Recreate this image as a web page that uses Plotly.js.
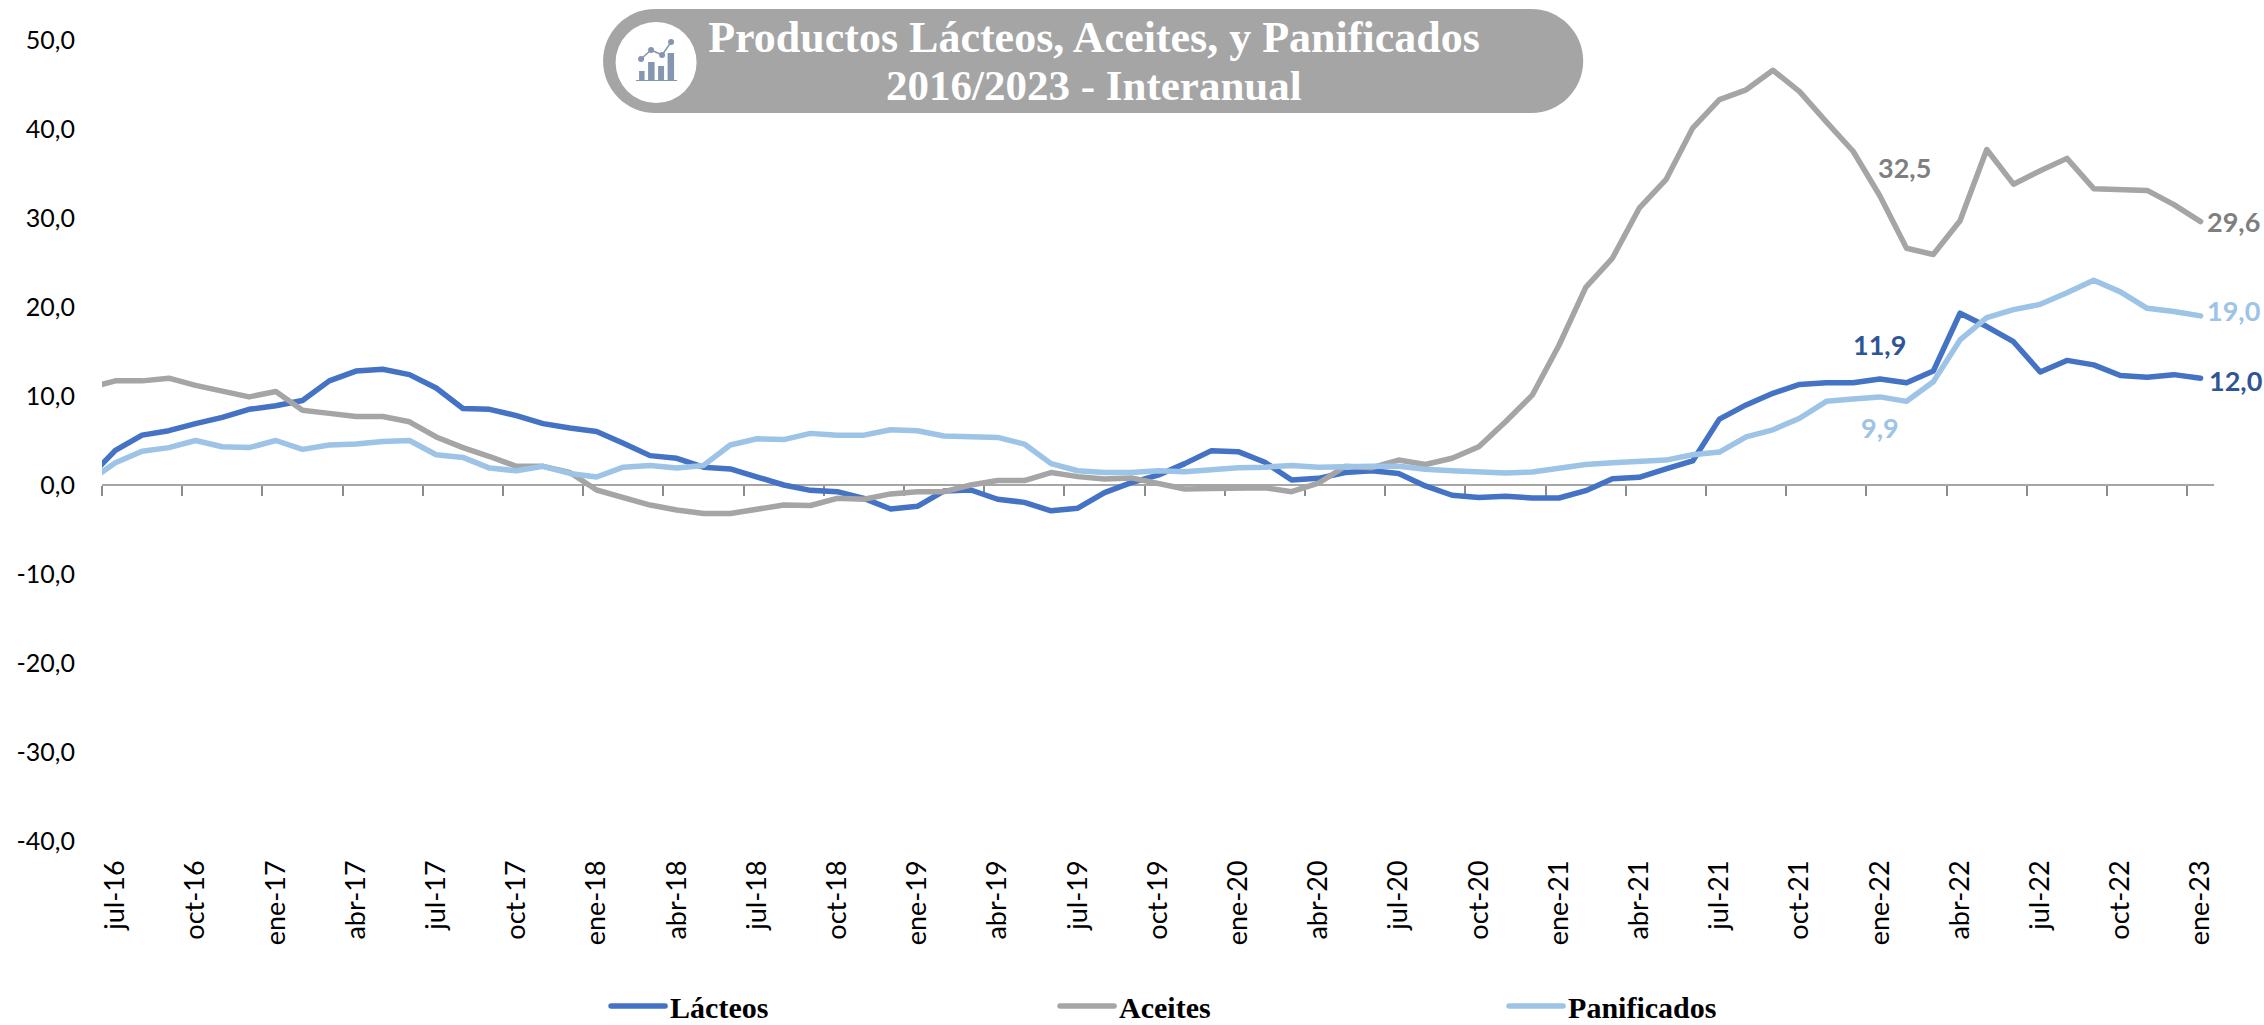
<!DOCTYPE html>
<html>
<head>
<meta charset="utf-8">
<script src="https://cdn.plot.ly/plotly-3.0.1.min.js"></script>
<style>html,body{margin:0;padding:0;background:#fff}#chart{width:2264px;height:1025px}
.scatterlayer .js-line,.legendlines path{stroke-linecap:round !important;stroke-linejoin:round !important}</style>
</head>
<body>
<div id="chart"></div>
<script>
var months = ['jun-16','jul-16','ago-16','sep-16','oct-16','nov-16','dic-16','ene-17','feb-17','mar-17','abr-17','may-17','jun-17','jul-17','ago-17','sep-17','oct-17','nov-17','dic-17','ene-18','feb-18','mar-18','abr-18','may-18','jun-18','jul-18','ago-18','sep-18','oct-18','nov-18','dic-18','ene-19','feb-19','mar-19','abr-19','may-19','jun-19','jul-19','ago-19','sep-19','oct-19','nov-19','dic-19','ene-20','feb-20','mar-20','abr-20','may-20','jun-20','jul-20','ago-20','sep-20','oct-20','nov-20','dic-20','ene-21','feb-21','mar-21','abr-21','may-21','jun-21','jul-21','ago-21','sep-21','oct-21','nov-21','dic-21','ene-22','feb-22','mar-22','abr-22','may-22','jun-22','jul-22','ago-22','sep-22','oct-22','nov-22','dic-22','ene-23'];
var lacteos = [0.8,3.9,5.6,6.1,6.9,7.6,8.5,8.9,9.5,11.7,12.8,13.0,12.4,10.9,8.6,8.5,7.8,6.9,6.4,6.0,4.7,3.3,3.0,2.0,1.8,0.9,0,-0.6,-0.75,-1.5,-2.7,-2.4,-0.67,-0.56,-1.6,-1.95,-2.9,-2.6,-0.86,0.26,1.1,2.4,3.86,3.75,2.55,0.56,0.75,1.4,1.6,1.3,-0.1,-1.15,-1.4,-1.27,-1.46,-1.46,-0.64,0.7,0.86,1.8,2.7,7.4,9.0,10.3,11.3,11.5,11.5,11.9,11.5,12.8,19.3,17.8,16.1,12.7,14.0,13.5,12.3,12.1,12.4,12.0];
var aceites = [10.9,11.7,11.7,12.0,11.2,10.5,9.9,10.5,8.4,8.05,7.7,7.7,7.1,5.4,4.2,3.2,2.1,2.1,1.4,-0.56,-1.4,-2.25,-2.8,-3.2,-3.2,-2.8,-2.25,-2.3,-1.5,-1.6,-1.0,-0.75,-0.75,0,0.5,0.5,1.4,0.94,0.67,0.8,0.2,-0.45,-0.4,-0.3,-0.3,-0.75,0.2,2.1,1.95,2.8,2.3,3.0,4.3,7.1,10.1,15.7,22.2,25.5,31.1,34.3,40.1,43.3,44.4,46.6,44.2,40.8,37.5,32.5,26.6,25.9,29.7,37.7,33.8,35.3,36.7,33.3,33.2,33.1,31.5,29.6];
var panificados = [0.4,2.5,3.8,4.2,5.0,4.3,4.2,5.0,4.0,4.5,4.6,4.9,5.0,3.4,3.1,1.9,1.6,2.1,1.3,0.9,2.0,2.2,1.9,2.2,4.5,5.2,5.1,5.8,5.6,5.6,6.2,6.1,5.5,5.35,5.35,4.6,2.4,1.6,1.4,1.4,1.6,1.5,1.76,1.95,2.0,2.2,2.0,2.1,2.1,2.1,1.76,1.6,1.5,1.35,1.46,1.87,2.3,2.5,2.66,2.8,3.4,3.7,5.4,6.2,7.5,9.4,9.66,9.9,9.4,11.6,16.3,18.8,19.7,20.3,21.6,23.0,21.7,19.85,19.5,19.0];
var xTickLabels = ['jul-16','oct-16','ene-17','abr-17','jul-17','oct-17','ene-18','abr-18','jul-18','oct-18','ene-19','abr-19','jul-19','oct-19','ene-20','abr-20','jul-20','oct-20','ene-21','abr-21','jul-21','oct-21','ene-22','abr-22','jul-22','oct-22','ene-23'];
var yTickVals = [-40,-30,-20,-10,0,10,20,30,40,50];
var yTickText = ['-40,0','-30,0','-20,0','-10,0','0,0','10,0','20,0','30,0','40,0','50,0'];
var xTickBoundaries = xTickLabels.map(function(m){ return months.indexOf(m) - 0.5; });

var L = 102, T = 40, PW = 2111.7, PH = 801;
function px(x){ return (x - L) / PW; }
function py(y){ return (T + PH - y) / PH; }

function pill(x0, x1, y0, y1){
  var r = (y1 - y0) / 2, k = r * 0.5523;
  return 'M' + px(x0 + r) + ',' + py(y0) +
    ' L' + px(x1 - r) + ',' + py(y0) +
    ' C' + px(x1 - r + k) + ',' + py(y0) + ' ' + px(x1) + ',' + py(y0 + r - k) + ' ' + px(x1) + ',' + py(y0 + r) +
    ' C' + px(x1) + ',' + py(y0 + r + k) + ' ' + px(x1 - r + k) + ',' + py(y1) + ' ' + px(x1 - r) + ',' + py(y1) +
    ' L' + px(x0 + r) + ',' + py(y1) +
    ' C' + px(x0 + r - k) + ',' + py(y1) + ' ' + px(x0) + ',' + py(y0 + r + k) + ' ' + px(x0) + ',' + py(y0 + r) +
    ' C' + px(x0) + ',' + py(y0 + r - k) + ' ' + px(x0 + r - k) + ',' + py(y0) + ' ' + px(x0 + r) + ',' + py(y0) + ' Z';
}
function pbox(x0, y0, x1, y1, color){
  return {type:'rect', xref:'paper', yref:'paper', x0:px(x0), x1:px(x1), y0:py(y0), y1:py(y1), fillcolor:color, line:{width:0}, layer:'below'};
}
function dot(x, y, r, color){
  return {type:'circle', xref:'paper', yref:'paper', x0:px(x-r), x1:px(x+r), y0:py(y-r), y1:py(y+r), fillcolor:color, line:{width:0}, layer:'below'};
}
var iconColor = '#8497b0';
var iconLine = [[641,59],[651,50],[662,55],[671,42]];
var shapes = [
  {type:'path', xref:'paper', yref:'paper', path:pill(603,1583,9,113), fillcolor:'#a5a5a5', line:{width:0}, layer:'below'},
  dot(656,62.5,40.5,'#ffffff'),
  pbox(639,71,644.5,80,iconColor), pbox(648,62,654.5,80,iconColor), pbox(658,66,664,80,iconColor), pbox(667.5,53,674,80,iconColor),
  pbox(636,80,677,81,iconColor),
  {type:'path', xref:'paper', yref:'paper', layer:'below', line:{color:iconColor,width:1.5},
   path:iconLine.map(function(p,i){return (i?'L':'M')+px(p[0])+','+py(p[1]);}).join(' ')}
].concat(iconLine.map(function(p){return dot(p[0],p[1],3,iconColor);}));

function trace(name, y, color){
  return {type:'scatter', mode:'lines', name:name, x:months, y:y, xaxis:'x', yaxis:'y',
          line:{color:color, width:5.5, shape:'linear'}, hoverinfo:'skip'};
}
var traces = [
  {type:'scatter', mode:'lines', x:[1], y:[null], xaxis:'x2', yaxis:'y', showlegend:false, hoverinfo:'skip'},
  trace('Lácteos',lacteos,'#4472c4'), trace('Aceites',aceites,'#a5a5a5'), trace('Panificados',panificados,'#9dc3e6')
];

function label(series, month, text, color, dx, dy){
  return {xref:'x', yref:'y', x:month, y:series[months.indexOf(month)], text:text, showarrow:false,
          xshift:dx, yshift:dy, xanchor:'center', yanchor:'middle',
          font:{family:'Lato', size:27, color:color}};
}
var annotations = [
  label(aceites,'ene-22','<b>32,5</b>','#7f7f7f',25,28),
  label(lacteos,'ene-22','<b>11,9</b>','#2f5597',0,35),
  label(panificados,'ene-22','<b>9,9</b>','#9dc3e6',0,-31),
  label(aceites,'ene-23','<b>29,6</b>','#7f7f7f',33,0),
  label(panificados,'ene-23','<b>19,0</b>','#9dc3e6',33,5),
  label(lacteos,'ene-23','<b>12,0</b>','#2f5597',35,-2),
  {xref:'paper', yref:'paper', x:px(1094), y:py(85), xanchor:'center', yanchor:'middle', showarrow:false,
   text:'<b>2016/2023 - Interanual</b>', font:{family:'Liberation Serif', size:43, color:'#ffffff'}}
];

var layout = {
  width:2264, height:1025,
  margin:{l:L, r:2264-L-PW, t:T, b:1025-T-PH, pad:0, autoexpand:false},
  paper_bgcolor:'#ffffff', plot_bgcolor:'#ffffff',
  showlegend:true,
  legend:{orientation:'h', x:px(606), xanchor:'left', y:py(1006), yanchor:'middle', yref:'paper',
          itemwidth:54, entrywidth:380, entrywidthmode:'pixels', traceorder:'normal', bgcolor:'rgba(0,0,0,0)',
          font:{family:'Liberation Serif', size:30, color:'#000000', weight:700}},
  title:{text:'<b>Productos Lácteos, Aceites, y Panificados</b>',
         x:1094/2264, xref:'container', xanchor:'center', y:1-37/1025, yref:'container', yanchor:'middle',
         font:{family:'Liberation Serif', size:44, color:'#ffffff'}},
  xaxis:{type:'category', categoryorder:'array', categoryarray:months, range:[0.5,79.5],
         tickmode:'array', tickvals:xTickLabels, ticktext:xTickLabels, tickangle:-90,
         ticks:'', showline:false, showgrid:false, zeroline:false, ticklabelstandoff:13, automargin:false,
         tickfont:{family:'Lato', size:27, color:'#000000'}, fixedrange:true},
  xaxis2:{type:'linear', overlaying:'x', anchor:'free', position:40/90, side:'bottom', range:[0.5,79.5],
          tickmode:'array', tickvals:xTickBoundaries, ticktext:xTickBoundaries.map(function(){return '';}),
          ticks:'outside', ticklen:10, tickwidth:1.5, tickcolor:'#8c8c8c',
          showline:true, linecolor:'#a6a6a6', linewidth:2, showgrid:false, zeroline:false, layer:'below traces', fixedrange:true},
  yaxis:{range:[-40,50], tickmode:'array', tickvals:yTickVals, ticktext:yTickText, automargin:false,
         showgrid:false, zeroline:false, showline:false, ticks:'', ticklabelstandoff:26,
         tickfont:{family:'Lato', size:25, color:'#000000'}, fixedrange:true},
  shapes:shapes,
  annotations:annotations
};
Plotly.newPlot('chart', traces, layout, {displayModeBar:false, responsive:false});
</script>
</body>
</html>
